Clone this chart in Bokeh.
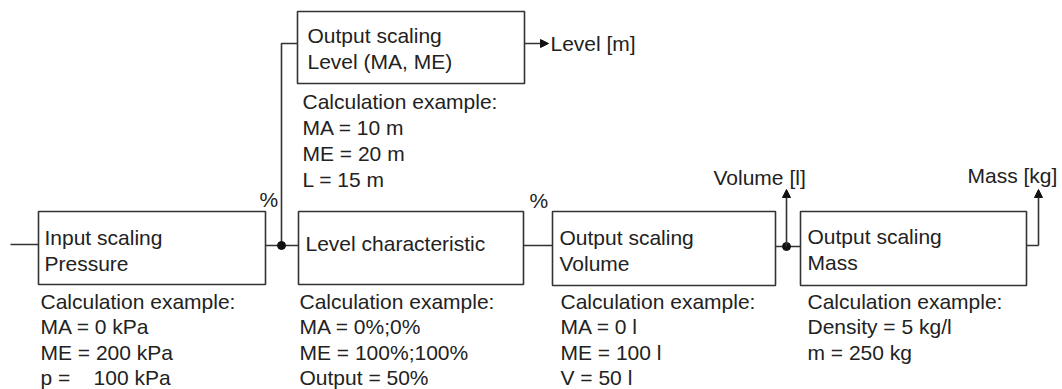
from bokeh.plotting import figure
from bokeh.models import Range1d, Arrow, NormalHead, ColumnDataSource
from bokeh.core.properties import value
from bokeh.embed import file_html
from bokeh.resources import INLINE

# ---- content ----
block_titles = [
    ["Input scaling", "Pressure"],
    ["Level characteristic"],
    ["Output scaling", "Volume"],
    ["Output scaling", "Mass"],
    ["Output scaling", "Level (MA, ME)"],
]
calc_texts = [
    ["Calculation example:", "MA = 0 kPa", "ME = 200 kPa", "p =\u00a0\u00a0\u00a0\u00a0100 kPa"],
    ["Calculation example:", "MA = 0%;0%", "ME = 100%;100%", "Output = 50%"],
    ["Calculation example:", "MA = 0 l", "ME = 100 l", "V = 50 l"],
    ["Calculation example:", "Density = 5 kg/l", "m = 250 kg"],
    ["Calculation example:", "MA = 10 m", "ME = 20 m", "L = 15 m"],
]
signal_labels = ["%", "%", "Level [m]", "Volume [l]", "Mass [kg]"]

# ---- layout (screen pixels; text y = middle of capitals) ----
box_left = [38, 298, 552, 800, 297]
box_right = [265, 523, 775, 1026, 524]
box_top = [211, 211, 211, 211, 11]
box_bottom = [284, 284, 285, 285, 83]
title_x = [44, 305, 559, 807, 307]
title_y0 = [237, 243, 237, 236, 35]
title_step = 25.5
calc_x = [40, 299, 560, 807, 302]
calc_y0 = [301, 301, 301, 301, 101]
calc_step = [25.3, 25.3, 25.3, 25.3, 26]
label_x = [259, 529, 550, 713, 967]
label_y = [199, 200, 43, 177, 175]

FONT = value("Liberation Sans")
FS = "21px"
LC = "#333333"
LW = 1.6
TC = "#222222"

W, H = 1062, 389
p = figure(width=W, height=H, x_range=Range1d(0, W), y_range=Range1d(H, 0),
           x_axis_type=None, y_axis_type=None, toolbar_location=None,
           output_backend="svg", min_border=0, outline_line_color=None)
p.min_border_left = p.min_border_right = p.min_border_top = p.min_border_bottom = 0
p.background_fill_color = "white"
p.border_fill_color = "white"

# boxes
p.quad(left=box_left, right=box_right, top=box_top, bottom=box_bottom,
       fill_color=None, line_color=LC, line_width=LW)

# connecting lines
xs = [
    [10, box_left[0]],
    [box_right[0], box_left[1]],
    [281, 281, box_left[4]],
    [box_right[1], box_left[2]],
    [box_right[2], box_left[3]],
    [box_right[3], 1038],
]
ys = [
    [244, 244],
    [245, 245],
    [245, 43, 43],
    [245, 245],
    [246, 246],
    [245, 245],
]
p.multi_line(xs=xs, ys=ys, line_color=LC, line_width=LW)

# junction dots
p.scatter(x=[281, 786], y=[245, 246], size=8, color="#111111")

# arrows
head = dict(size=8, fill_color="#111111", line_color="#111111")
p.add_layout(Arrow(end=NormalHead(**head), x_start=box_right[4], y_start=43, x_end=548, y_end=43,
                   line_color=LC, line_width=LW))
p.add_layout(Arrow(end=NormalHead(**head), x_start=786, y_start=246, x_end=786, y_end=189,
                   line_color=LC, line_width=LW))
p.add_layout(Arrow(end=NormalHead(**head), x_start=1038, y_start=245, x_end=1038, y_end=189,
                   line_color=LC, line_width=LW))

# texts
tx, ty, tt = [], [], []
for i, lines in enumerate(block_titles):
    for j, s in enumerate(lines):
        tx.append(title_x[i]); ty.append(title_y0[i] + j * title_step); tt.append(s)
for i, lines in enumerate(calc_texts):
    for j, s in enumerate(lines):
        tx.append(calc_x[i]); ty.append(calc_y0[i] + j * calc_step[i]); tt.append(s)
p.text(x=tx, y=ty, text=tt, text_font=FONT, text_font_size=FS, text_color=TC,
       text_baseline="middle", text_align="left")

src = ColumnDataSource(dict(x=label_x, y=label_y, t=signal_labels))
p.text(x="x", y="y", text="t", source=src, text_font=FONT,
       text_font_size=FS, text_color=TC, text_baseline="middle", text_align="left")

open("out.html", "w").write(file_html(p, INLINE))
